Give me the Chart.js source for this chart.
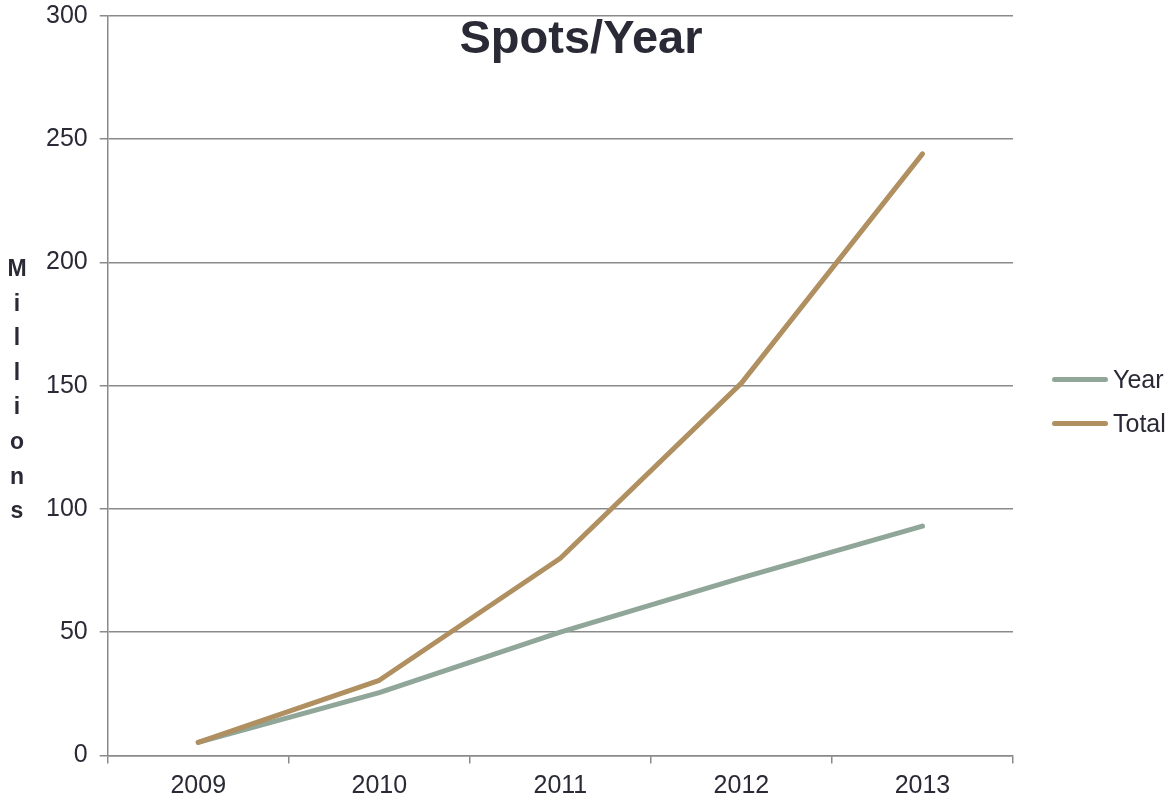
<!DOCTYPE html>
<html>
<head>
<meta charset="utf-8">
<script src="https://cdn.jsdelivr.net/npm/chart.js@4"></script>
<style>
  body { margin: 0; background: #fff; }
  #wrap { position: relative; width: 1171px; height: 801px; font-family: "Liberation Sans", Arial, sans-serif; color: #2a2a36; }
  #title { position: absolute; left: 581px; top: 13px; transform: translateX(-50%); font-size: 47px; line-height: 47px; font-weight: bold; white-space: nowrap; }
  #ytitle { position: absolute; left: 0; top: 251px; width: 34px; text-align: center; font-size: 23px; font-weight: bold; line-height: 34.6px; }
  #legend { position: absolute; left: 1052px; top: 364px; font-size: 25px; }
  .item { display: flex; align-items: center; height: 30px; margin-bottom: 14px; }
  .swatch { width: 56px; height: 5px; border-radius: 3px; margin-right: 5px; }
</style>
</head>
<body>
<div id="wrap">
  <canvas id="spotsChart" width="1171" height="801"></canvas>
  <div id="title">Spots/Year</div>
  <div id="ytitle">M<br>i<br>l<br>l<br>i<br>o<br>n<br>s</div>
  <div id="legend"></div>
</div>
<script>
const years = ["2009", "2010", "2011", "2012", "2013"];
const seriesNames = ["Year", "Total"];
const yearSpots = [5.3, 25.5, 50, 72, 93];
const totalSpots = [5.3, 30.5, 80, 151, 244];

const seriesColors = ["rgb(143, 166, 152)", "rgb(176, 143, 96)"];
const gridColor = "#8a8a8a";
const textColor = "#2a2a36";

const chart = new Chart(document.getElementById("spotsChart"), {
  type: "line",
  data: {
    labels: years,
    datasets: [yearSpots, totalSpots].map(function (values, i) {
      return {
        label: seriesNames[i],
        data: values,
        borderColor: seriesColors[i],
        backgroundColor: seriesColors[i],
        borderWidth: 5,
        borderCapStyle: "round",
        borderJoinStyle: "round",
        pointRadius: 0,
        tension: 0,
        order: 1 - i   // Total drawn over Year
      };
    })
  },
  options: {
    responsive: false,
    animation: false,
    devicePixelRatio: 1,
    layout: {
      padding: { left: 34, top: 0, right: 158, bottom: -7 }
    },
    scales: {
      x: {
        offset: true,
        grid: {
          offset: true,
          drawOnChartArea: false,
          color: gridColor,
          lineWidth: 1.5,
          tickLength: 8
        },
        border: { color: gridColor, width: 1.5 },
        ticks: {
          color: textColor,
          font: { family: "Liberation Sans", size: 25, lineHeight: 1.3 },
          padding: 6,
          maxRotation: 0
        }
      },
      y: {
        min: 0,
        max: 300,
        grid: {
          color: gridColor,
          lineWidth: 1.5,
          tickLength: 8
        },
        border: { color: gridColor, width: 1.5 },
        ticks: {
          stepSize: 50,
          color: textColor,
          // small lineHeight so the top label does not push the plot down
          font: { family: "Liberation Sans", size: 25, lineHeight: 0.3 },
          padding: 12
        }
      }
    },
    plugins: {
      legend: { display: false },
      tooltip: { enabled: false }
    }
  }
});

// html legend, same order as the datasets
const legendBox = document.getElementById("legend");
chart.data.datasets.forEach(function (ds) {
  const item = document.createElement("div");
  item.className = "item";
  const swatch = document.createElement("span");
  swatch.className = "swatch";
  swatch.style.background = ds.borderColor;
  const label = document.createElement("span");
  label.textContent = ds.label;
  item.appendChild(swatch);
  item.appendChild(label);
  legendBox.appendChild(item);
});
</script>
</body>
</html>
